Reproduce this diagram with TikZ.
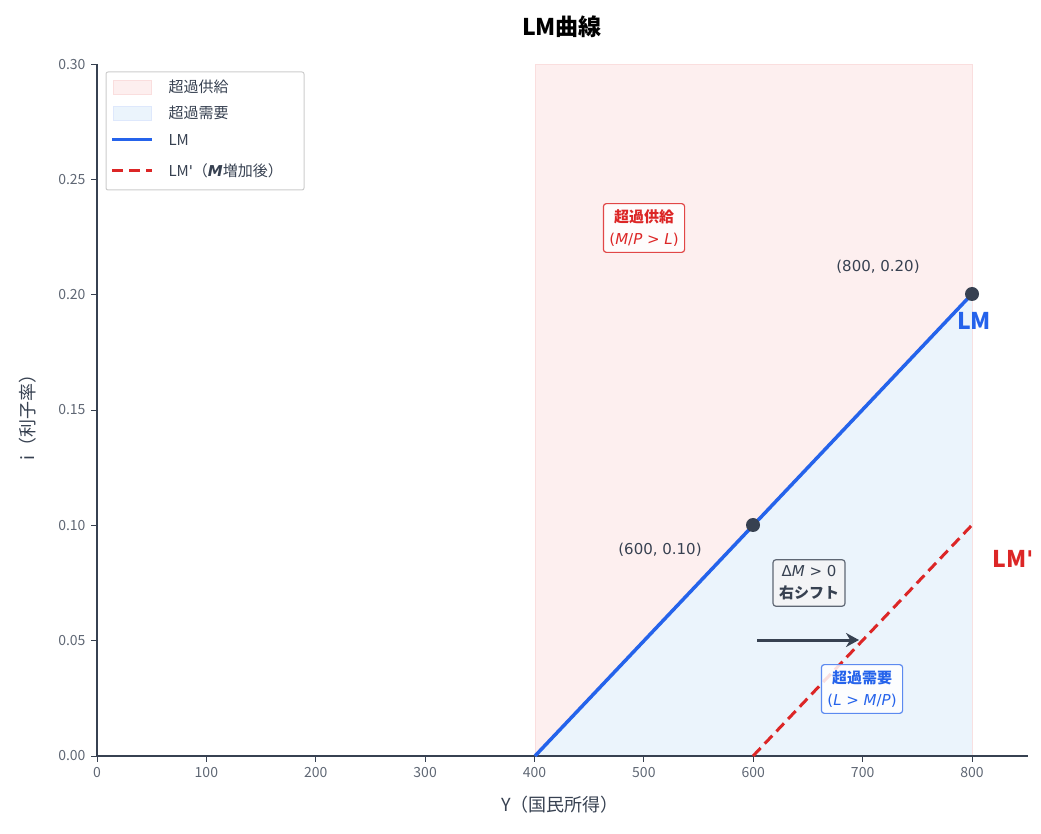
\documentclass[tikz,border=0pt]{standalone}
\usepackage{fontspec}
\setmainfont{Noto Sans CJK JP}
\newfontfamily\dv{DejaVu Sans}
\usetikzlibrary{arrows.meta}
\definecolor{lmblue}{HTML}{2563EB}
\definecolor{lmred}{HTML}{DC2626}
\definecolor{axc}{HTML}{374151}
\definecolor{pinkf}{HTML}{FDEFEF}
\definecolor{bluef}{HTML}{EBF4FC}
\newcommand{\ap}{{\dv\char"0027}}
\tikzset{
 tick/.style={font=\fontsize{14}{16}\selectfont,text=axc!80},
 anno/.style={font=\dv\fontsize{15}{17}\selectfont,text=axc},
 tagbox/.style={draw,rounded corners=3pt,line width=1.2pt,fill=white,fill opacity=0.85,text opacity=1,align=center,inner sep=6pt,font=\fontsize{15}{22}\selectfont\bfseries},
 pt/.style={circle,fill=axc,inner sep=0pt,minimum size=14pt}
}
\begin{document}
\begin{tikzpicture}[x=1pt,y=1pt]
\useasboundingbox (0,0) rectangle (1041,833);
\fill[pinkf] (535,769) rectangle (972,77);
\draw[lmred!15,line width=0.8pt] (535,77) -- (535,769) -- (972,769) -- (972,77);
\fill[bluef] (535,77) -- (972,539) -- (972,77) -- cycle;
\draw[axc,line width=1.2pt] (97,769) -- (97,77) -- (1028,77);
\foreach \v/\l in {0/0,100/100,200/200,300/300,400/400,500/500,600/600,700/700,800/800}{
  \draw[axc,line width=1pt] ({97+\v*1.09375},77) -- ({97+\v*1.09375},71);
  \node[tick,anchor=north] (xt\v) at ({97+\v*1.09375},69) {\l};
}
\foreach \k/\l in {0/0.00,1/0.05,2/0.10,3/0.15,4/0.20,5/0.25,6/0.30}{
  \draw[axc,line width=1pt] (97,{77+\k*115.33}) -- (91,{77+\k*115.33});
  \node[tick,anchor=east] (yt\k) at (89,{77+\k*115.33}) {\l};
}
\node[font=\fontsize{18}{20}\selectfont,text=axc] (xl) at (560,28) {Y（国民所得）};
\node[font=\fontsize{18}{20}\selectfont,text=axc,rotate=90] (yl) at (28,420) {i（利子率）};
\node[font=\fontsize{23}{25}\selectfont\bfseries] (title) at (562,806) {LM曲線};
\coordinate (a) at (535,77); \coordinate (b) at (972,539);
\coordinate (c) at (753,77); \coordinate (d) at (972,308);
\draw[lmblue,line width=3.5pt] (a) -- (b);
\draw[lmred,line width=3pt,dash pattern=on 11pt off 6pt] (c) -- (d);
\node[pt] (p1) at (753,308) {};
\node[pt] (p2) at (972,539) {};
\node[anno] (l2) at (878,566) {(800, 0.20)};
\node[anno] (l1) at (660,283) {(600, 0.10)};
\node[font=\fontsize{23}{25}\selectfont\bfseries,text=lmblue] (lm) at (974,512) {LM};
\node[font=\fontsize{23}{25}\selectfont\bfseries,text=lmred] (lmp) at (1013,274) {LM\ap};
\node[tagbox,draw=lmred!85,text=lmred] (es) at (644,605) {超過供給\\\dv\mdseries (\textit{M}/\textit{P} > \textit{L})};
\node[tagbox,draw=axc!80,text=axc,fill=axc!5] (dm) at (809,250) {\dv\mdseries Δ\textit{M} > 0\\右シフト};
\node[tagbox,draw=lmblue!75,text=lmblue] (ed) at (862,144) {超過需要\\\dv\mdseries (\textit{L} > \textit{M}/\textit{P})};
\coordinate (s0) at (757,193); \coordinate (s1) at (859,193);
\draw[axc,line width=3pt,-{Stealth[length=13pt,width=14pt]}] (s0) -- (s1);
\node[draw=black!20,fill=white,rounded corners=2pt,line width=1pt,minimum width=198pt,minimum height=118pt] (leg) at (205,702) {};
\fill[pinkf] (113,739) rectangle (151,753); \draw[lmred!15] (113,739) rectangle (151,753);
\fill[bluef] (113,713) rectangle (151,727); \draw[lmblue!15] (113,713) rectangle (151,727);
\draw[lmblue,line width=3pt] (112,693) -- (152,693);
\draw[lmred,line width=3pt,dash pattern=on 11pt off 6pt] (112,662) -- (152,662);
\node[tick,text=axc,font=\fontsize{15}{17}\selectfont,anchor=west] (g1) at (165,746) {超過供給};
\node[tick,text=axc,font=\fontsize{15}{17}\selectfont,anchor=west] (g2) at (165,720) {超過需要};
\node[tick,text=axc,font=\fontsize{15}{17}\selectfont,anchor=west] (g3) at (165,693) {LM};
\node[tick,text=axc,font=\fontsize{15}{17}\selectfont,anchor=west] (g4) at (165,662) {LM\ap（{\dv\bfseries\itshape M}増加後）};
\end{tikzpicture}
\end{document}
